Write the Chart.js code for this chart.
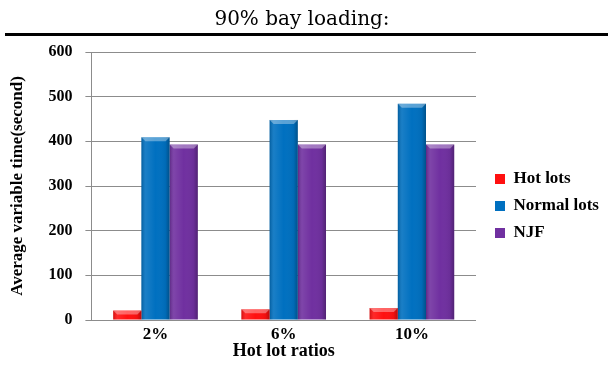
<!DOCTYPE html>
<html><head><meta charset="utf-8">
<script src="https://cdn.jsdelivr.net/npm/chart.js@4/dist/chart.umd.min.js"></script>
<style>html,body{margin:0;padding:0;background:#fff}#wrap{width:608px;height:365px;position:relative}</style>
</head><body><div id="wrap"><canvas id="c" width="608" height="365"></canvas></div>
<script>
const heading = '90% bay loading:';
const categories = ['2%', '6%', '10%'];
const seriesNames = ['Hot lots', 'Normal lots', 'NJF'];
const hotLots = [21, 24, 27];
const normalLots = [409, 448, 484];
const njf = [393, 393, 393];
const yTicks = [0, 100, 200, 300, 400, 500, 600];
const colors = ['#ff1010', '#0070c0', '#7030a0'];

const serif = '"Liberation Serif", "Times New Roman", serif';

// Heading text and the heavy rule beneath it
const headingPlugin = {
  id: 'heading',
  beforeDraw(chart) {
    const c = chart.ctx;
    c.save();
    c.fillStyle = '#000';
    c.font = '20px "DejaVu Serif", serif';
    c.textAlign = 'center';
    c.textBaseline = 'middle';
    c.fillText(heading, 302, 20);
    c.fillRect(5, 33, 603, 3);
    c.restore();
  }
};

// Bevel shading over each bar: darker sides, lighter top cap
const bevelPlugin = {
  id: 'bevel',
  afterDatasetsDraw(chart) {
    const c = chart.ctx;
    chart.data.datasets.forEach((ds, di) => {
      chart.getDatasetMeta(di).data.forEach(bar => {
        const w = bar.width, x0 = bar.x - w / 2, top = bar.y, bottom = bar.base;
        const g = c.createLinearGradient(x0, 0, x0 + w, 0);
        g.addColorStop(0, 'rgba(0,0,0,0.18)');
        g.addColorStop(0.15, 'rgba(255,255,255,0.10)');
        g.addColorStop(0.5, 'rgba(255,255,255,0)');
        g.addColorStop(0.85, 'rgba(0,0,0,0.05)');
        g.addColorStop(1, 'rgba(0,0,0,0.28)');
        c.save();
        c.fillStyle = g;
        c.fillRect(x0, top, w, bottom - top);
        const cap = Math.min(4, (bottom - top) / 2);
        c.fillStyle = 'rgba(255,255,255,0.35)';
        c.beginPath();
        c.moveTo(x0, top);
        c.lineTo(x0 + w, top);
        c.lineTo(x0 + w - cap, top + cap);
        c.lineTo(x0 + cap, top + cap);
        c.closePath();
        c.fill();
        c.restore();
      });
    });
  }
};

new Chart(document.getElementById('c'), {
  type: 'bar',
  data: {
    labels: categories,
    datasets: [
      { label: seriesNames[0], data: hotLots, backgroundColor: colors[0] },
      { label: seriesNames[1], data: normalLots, backgroundColor: colors[1] },
      { label: seriesNames[2], data: njf, backgroundColor: colors[2] }
    ]
  },
  options: {
    responsive: false,
    animation: false,
    layout: { padding: { top: 52, left: 0, right: 0, bottom: 5 } },
    datasets: { bar: { categoryPercentage: 0.66, barPercentage: 1.0 } },
    scales: {
      x: {
        grid: { display: false, drawTicks: false },
        border: { display: false },
        ticks: { color: '#000', font: { family: serif, size: 17, weight: 'bold', lineHeight: 1 }, padding: 6 },
        title: { display: true, text: 'Hot lot ratios', color: '#000', padding: { top: -7, bottom: 0 },
                 font: { family: serif, size: 18, weight: 'bold', lineHeight: 1 } }
      },
      y: {
        min: 0, max: 600,
        afterBuildTicks(axis) { axis.ticks = yTicks.map(v => ({ value: v })); },
        grid: { color: '#8c8c8c', lineWidth: 1, tickLength: 6 },
        border: { color: '#8c8c8c' },
        ticks: { color: '#000', font: { family: serif, size: 16, weight: 'bold' }, padding: 13 },
        title: { display: true, text: 'Average variable time(second)', color: '#000',
                 padding: { top: 7, bottom: 8 },
                 font: { family: serif, size: 17, weight: 'bold', lineHeight: 1.2 } }
      },
      // empty gap between the plot and the legend
      gap: {
        type: 'linear', position: 'right', display: true,
        grid: { display: false, drawTicks: false }, border: { display: false },
        ticks: { display: false },
        afterFit(s) { s.width = 9; }
      }
    },
    plugins: {
      legend: {
        position: 'right',
        maxWidth: 123,
        labels: { color: '#000', boxWidth: 10, boxHeight: 10, padding: 10,
                  font: { family: serif, size: 17, weight: 'bold' } }
      },
      tooltip: { enabled: false }
    }
  },
  plugins: [headingPlugin, bevelPlugin]
});
</script></body></html>
